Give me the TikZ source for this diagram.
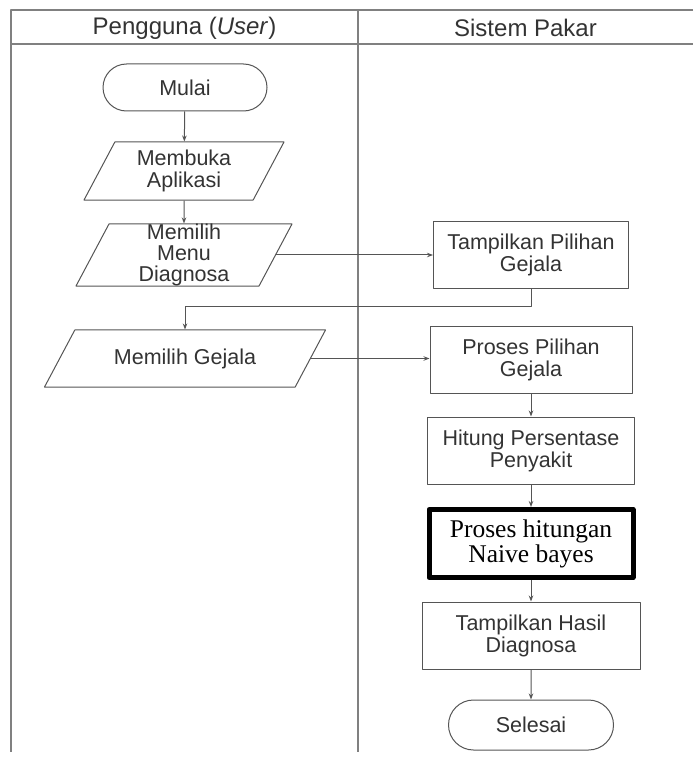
\documentclass[tikz,border=0pt]{standalone}
\usepackage{fontspec}
\setmainfont{Liberation Sans}
\newfontfamily\timesfont{Liberation Serif}
\usetikzlibrary{shapes.geometric,shapes.misc,arrows.meta}
\definecolor{inkgray}{HTML}{333333}
\definecolor{linegray}{HTML}{555555}
\tikzset{
	base/.style={draw=linegray, line width=1pt, text=inkgray, align=center, inner sep=0pt, font=\fontsize{21.5}{22}\selectfont},
	terminal/.style={base, rounded rectangle, minimum height=47},
	io/.style={base, trapezium, trapezium left angle=62, trapezium right angle=118, trapezium stretches body},
	process/.style={base, rectangle, minimum height=67},
	naive/.style={process, draw=black, line width=5pt, text=black, font=\timesfont\fontsize{25.5}{25}\selectfont},
	arr/.style={draw=linegray, line width=1pt, -{Stealth[length=6pt,width=4.5pt]}},
	lane/.style={draw=gray, line width=1.2pt},
	head/.style={text=inkgray, font=\fontsize{24}{24}\selectfont}
}
\begin{document}
\begin{tikzpicture}[x=1pt, y=-1pt, line join=round]
	\useasboundingbox (0,0) rectangle (693,757);
	% swimlanes
	\draw[lane] (693,10)--(11,10)--(11,752) (11,44)--(693,44) (358,10)--(358,752);
	\node[head] (huser) at (184.5,28) {Pengguna (\textit{User})};
	\node[head] (hsys) at (525.5,28) {Sistem Pakar};
	% pengguna
	\node[terminal, minimum width=164] (mulai) at (185,87.5) {Mulai};
	\node[io, minimum width=200, inner ysep=8] (buka) at (184,171) {Membuka\\Aplikasi};
	\node[io, minimum width=216, inner ysep=0, font=\fontsize{21.5}{21}\selectfont] (menu) at (184,255) {Memilih\\Menu\\Diagnosa};
	\node[io, minimum width=281, inner ysep=18.5] (gejala) at (185,358.5) {Memilih Gejala};
	% sistem pakar
	\node[process, minimum width=195] (tpg) at (531,254.5) {Tampilkan Pilihan\\Gejala};
	\node[process, minimum width=202] (ppg) at (531,359.5) {Proses Pilihan\\Gejala};
	\node[process, minimum width=207] (hpp) at (531,450.5) {Hitung Persentase\\Penyakit};
	\node[naive, minimum width=204, minimum height=68] (nb) at (531,543.5) {Proses hitungan\\Naive bayes};
	\node[process, minimum width=218] (thd) at (531,635.5) {Tampilkan Hasil\\Diagnosa};
	\node[terminal, minimum width=165, minimum height=50] (selesai) at (531,725) {Selesai};
	% alur
	\draw[arr] (mulai)--(buka);
	\draw[arr] (buka)--(menu);
	\draw[arr] (menu.east)--(menu.east -| tpg.west);
	\draw[arr] (tpg.south)--++(0,18)-|(gejala.north);
	\draw[arr] (gejala.east)--(gejala.east -| ppg.west);
	\draw[arr] (ppg)--(hpp);
	\draw[arr] (hpp)--(nb);
	\draw[arr] (nb)--(thd);
	\draw[arr] (thd)--(selesai);
\end{tikzpicture}
\end{document}
